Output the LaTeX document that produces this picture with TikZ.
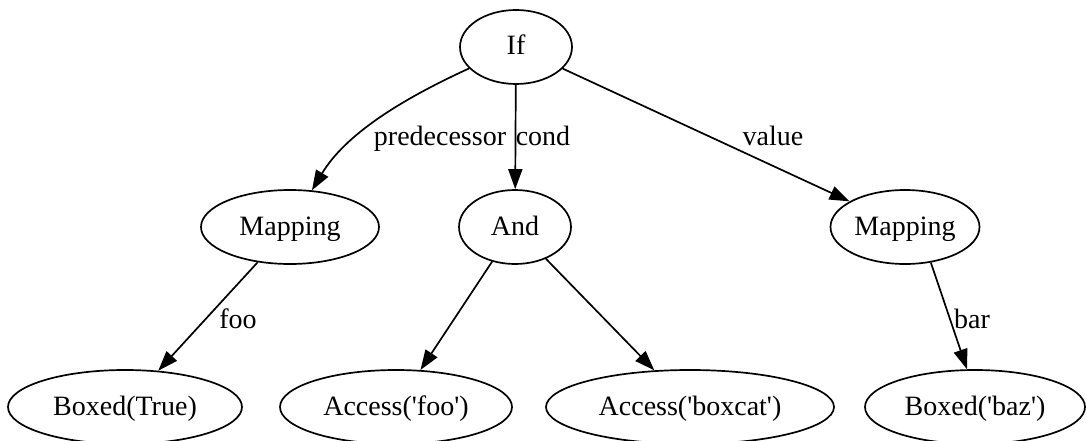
\documentclass[tikz,border=0pt]{standalone}
\usepackage{fontspec}
\setmainfont{Liberation Serif}
\usetikzlibrary{shapes.geometric,arrows.meta}
\newcommand{\q}{\textquotesingle}
\tikzset{
  gtext/.style={font=\fontsize{28}{32}\selectfont, text height=22pt, text depth=6pt},
  gnode/.style={gtext, draw, ellipse, line width=1.7pt, inner sep=0pt, minimum height=74pt},
  gedge/.style={draw, line width=1.7pt, -{Triangle[length=20pt,width=14pt]}},
  elabel/.style={gtext, inner sep=0pt},
}
\begin{document}
\begin{tikzpicture}[x=1pt,y=-1pt]
\useasboundingbox[fill=white] (0,0) rectangle (1086,441);

% nodes
\node[gnode, minimum width=112pt] (if) at (516,47) {If};
\node[gnode, minimum width=178pt] (mapL) at (290,227) {Mapping};
\node[gnode, minimum width=112pt] (and) at (515,227) {And};
\node[gnode, minimum width=149pt] (mapR) at (905,227) {Mapping};
\node[gnode, minimum width=234pt] (bt) at (125,407) {Boxed(True)};
\node[gnode, minimum width=232pt] (af) at (396,407) {Access(\q foo\q)};
\node[gnode, minimum width=288pt] (ab) at (690,407) {Access(\q boxcat\q)};
\node[gnode, minimum width=220pt] (bb) at (975,407) {Boxed(\q baz\q)};

% edges
\draw[gedge] (if) .. controls (400,100) and (345,135) .. (mapL);
\draw[gedge] (if) -- (and);
\draw[gedge] (if) -- (mapR);
\draw[gedge] (mapL) -- (bt);
\draw[gedge] (and) -- (af);
\draw[gedge] (and) -- (ab);
\draw[gedge] (mapR.-54) -- (bb.102);

% edge labels
\node[elabel] (lpred) at (440,137) {predecessor};
\node[elabel] (lcond) at (543,137) {cond};
\node[elabel] (lval) at (773,137) {value};
\node[elabel] (lfoo) at (238,320) {foo};
\node[elabel] (lbar) at (972,320) {bar};
\end{tikzpicture}
\end{document}
